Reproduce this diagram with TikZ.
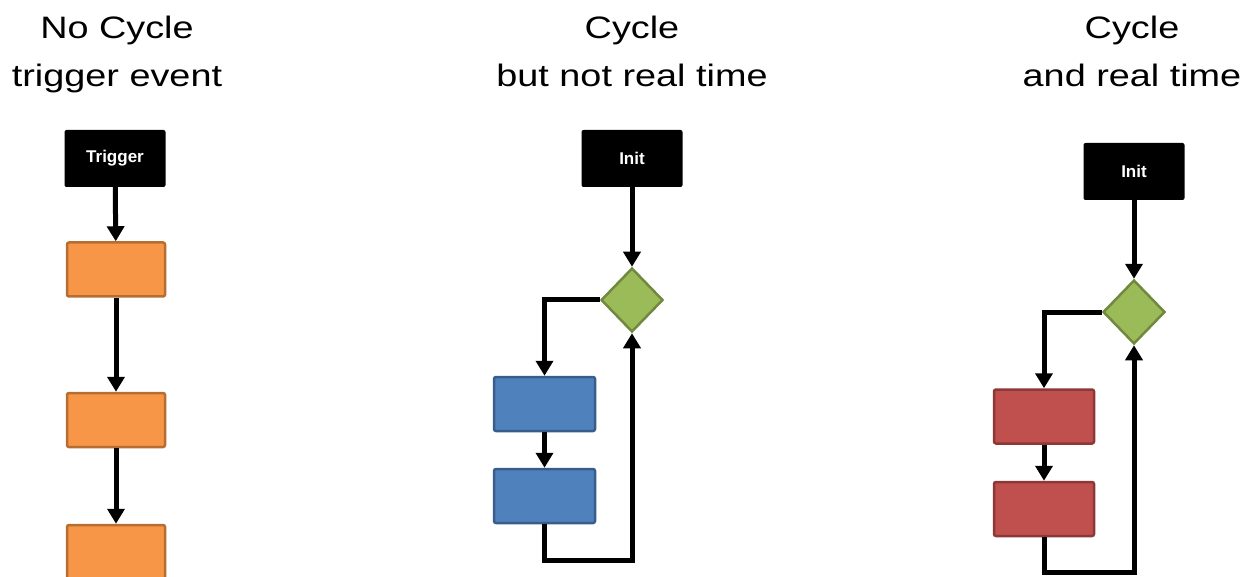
\documentclass[tikz,border=0pt]{standalone}
\usepackage{fontspec}
\setmainfont{Liberation Sans}
\newfontfamily\titlefont[FakeStretch=1.22]{Liberation Sans}
\usetikzlibrary{arrows.meta, shapes.geometric, positioning}

\definecolor{orangefill}{HTML}{F79646}
\definecolor{orangeline}{HTML}{B66D31}
\definecolor{bluefill}{HTML}{4F81BD}
\definecolor{blueline}{HTML}{385D8A}
\definecolor{redfill}{HTML}{C0504D}
\definecolor{redline}{HTML}{8C3836}
\definecolor{greenfill}{HTML}{9BBB59}
\definecolor{greenline}{HTML}{71893F}

\tikzset{
	title text/.style={anchor=base, inner sep=0pt, font=\titlefont\fontsize{31}{40}\selectfont},
	black box/.style={fill=black, text=white, rounded corners=2pt, minimum width=101pt, minimum height=57pt, inner sep=0pt, font=\fontsize{17}{20}\selectfont\bfseries},
	proc box/.style={draw=#1line, fill=#1fill, line width=2.5pt, rounded corners=2pt, minimum width=98pt, minimum height=54pt, inner sep=0pt},
	dec box/.style={diamond, draw=greenline, fill=greenfill, line width=2.5pt, minimum width=62pt, minimum height=64pt, inner sep=0pt},
	flow/.style={line width=5pt, -{Triangle[width=17pt,length=15pt]}},
}

\begin{document}
\begin{tikzpicture}[x=1pt, y=-1pt]
	\useasboundingbox (0,0) rectangle (1258,577);

	% titles
	\node[title text] (title 1) at (117,39) {No Cycle};
	\node[title text] (sub 1) at (117,87) {trigger event};
	\node[title text] (title 2) at (632,39) {Cycle};
	\node[title text] (sub 2) at (632,87) {but not real time};
	\node[title text] (title 3) at (1132,39) {Cycle};
	\node[title text] (sub 3) at (1132,87) {and real time};

	% no cycle
	\node[black box] (trig) at (115,158.5) {Trigger};
	\node[proc box=orange] (or 1) at (116,269.5) {};
	\node[proc box=orange] (or 2) at (116,420) {};
	\node[proc box=orange] (or 3) at (116,552) {};
	\draw[flow] (trig) -- (or 1);
	\draw[flow] (or 1) -- (or 2);
	\draw[flow] (or 2) -- (or 3);

	% cycle, not real time
	\node[black box] (init 1) at (632,158.5) {Init};
	\node[dec box] (dec 1) at (632,300) {};
	\node[proc box=blue, minimum width=101pt] (bl 1) at (544.5,404) {};
	\node[proc box=blue, minimum width=101pt] (bl 2) at (544.5,496) {};
	\coordinate (loop 1) at (632,560);
	\draw[flow] (init 1) -- (dec 1);
	\draw[flow] (dec 1.west) -| (bl 1.north);
	\draw[flow] (bl 1) -- (bl 2);
	\draw[flow] (bl 2.south) |- (loop 1) -- (dec 1.south);

	% cycle and real time
	\node[black box] (init 2) at (1134,171.5) {Init};
	\node[dec box] (dec 2) at (1134,312) {};
	\node[proc box=red, minimum width=100pt] (rd 1) at (1044,416.5) {};
	\node[proc box=red, minimum width=100pt] (rd 2) at (1044,509) {};
	\coordinate (loop 2) at (1134,572);
	\draw[flow] (init 2) -- (dec 2);
	\draw[flow] (dec 2.west) -| (rd 1.north);
	\draw[flow] (rd 1) -- (rd 2);
	\draw[flow] (rd 2.south) |- (loop 2) -- (dec 2.south);
\end{tikzpicture}
\end{document}
